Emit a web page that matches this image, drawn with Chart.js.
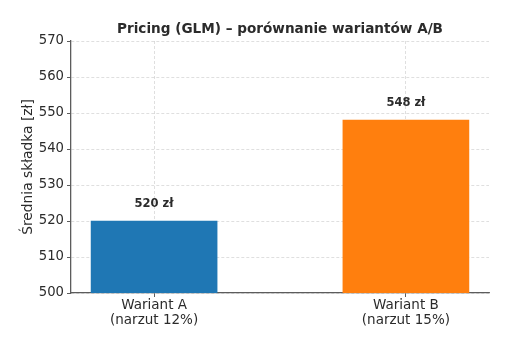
<!DOCTYPE html>
<html>
<head>
<meta charset="utf-8">
<script src="https://cdn.jsdelivr.net/npm/chart.js@4"></script>
<style>
  html, body { margin: 0; padding: 0; background: #fff; }
  #wrap { width: 516px; height: 343px; }
</style>
</head>
<body>
<div id="wrap"><canvas id="chart" width="516" height="343"></canvas></div>
<script>
const variants = [["Wariant A", "(narzut 12%)"], ["Wariant B", "(narzut 15%)"]];
const premiums = [520, 548];
const barColors = ["#1f77b4", "#ff7f0e"];
const yTicks = [500, 510, 520, 530, 540, 550, 560, 570];

const FONT = "'DejaVu Sans', sans-serif";
const gridColor = "rgba(0,0,0,0.16)";
const axisColor = "#5c5c5c";
const textColor = "#2b2b2b";

// title centred over the plot area, value labels above each bar
const extras = {
  id: "extras",
  afterDraw(chart) {
    const { ctx, chartArea } = chart;
    ctx.save();
    ctx.fillStyle = textColor;
    ctx.textAlign = "center";
    ctx.textBaseline = "middle";
    ctx.font = "bold 13.6px " + FONT;
    ctx.fillText("Pricing (GLM) – porównanie wariantów A/B", (chartArea.left + chartArea.right) / 2, 29);

    ctx.font = "bold 11.5px " + FONT;
    chart.getDatasetMeta(0).data.forEach((bar, i) => {
      ctx.fillText(premiums[i] + " zł", bar.x, bar.y - 17);
    });
    ctx.restore();
  }
};

new Chart(document.getElementById("chart"), {
  type: "bar",
  plugins: [extras],
  data: {
    datasets: [{
      data: premiums.map((v, i) => ({ x: i, y: v })),
      backgroundColor: barColors,
      borderWidth: 0,
      barThickness: 126
    }]
  },
  options: {
    responsive: false,
    animation: false,
    events: [],
    layout: { padding: { top: 41, right: 27, left: 0, bottom: 0 } },
    plugins: { legend: { display: false }, tooltip: { enabled: false } },
    scales: {
      x: {
        type: "linear",
        offset: false,
        min: -0.33,
        max: 1.33,
        z: 1,
        afterBuildTicks: (s) => { s.ticks = [{ value: 0 }, { value: 1 }]; },
        afterFit: (s) => { s.height = 50; },
        ticks: {
          callback: (v) => variants[v],
          color: textColor,
          font: { family: FONT, size: 13.5, lineHeight: 1.12 },
          padding: 1,
          maxRotation: 0
        },
        grid: { offset: false, color: gridColor, lineWidth: 0.8, tickColor: axisColor, tickLength: 4, tickWidth: 1 },
        border: { color: axisColor, width: 1.3, dash: [3, 2] }
      },
      y: {
        min: 500,
        max: 570,
        z: 1,
        afterBuildTicks: (s) => { s.ticks = yTicks.map(v => ({ value: v })); },
        afterFit: (s) => { s.width = 71; },
        ticks: {
          color: textColor,
          font: { family: FONT, size: 13.2 },
          padding: 3
        },
        grid: { color: gridColor, lineWidth: 0.8, tickColor: axisColor, tickLength: 4, tickWidth: 1 },
        border: { color: axisColor, width: 1.3, dash: [3, 2] },
        title: {
          display: true,
          text: "Średnia składka [zł]",
          color: textColor,
          font: { family: FONT, size: 13.8 },
          padding: { top: 20, bottom: 2 }
        }
      }
    }
  }
});
</script>
</body>
</html>
